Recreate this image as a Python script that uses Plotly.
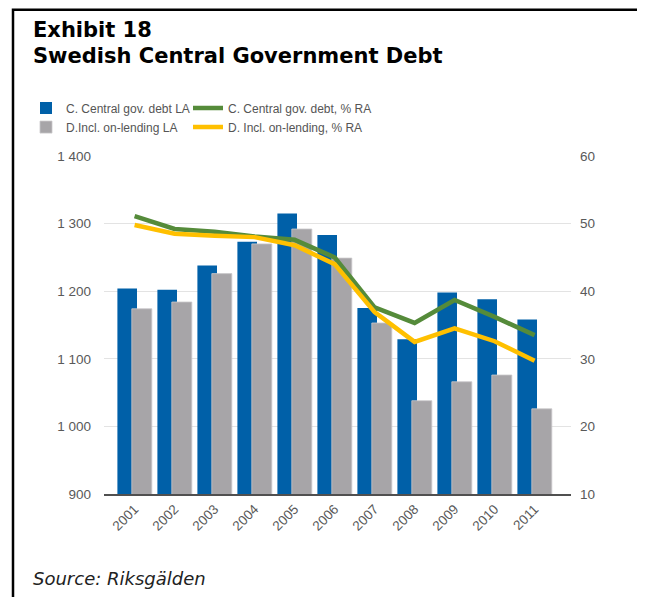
import numpy as np
import plotly.graph_objects as go

years = ["2001", "2002", "2003", "2004", "2005", "2006", "2007", "2008", "2009", "2010", "2011"]
debt_la = [1204, 1202, 1238, 1273, 1315, 1283, 1175, 1129, 1198, 1188, 1158]
onlend_la = [1174, 1184, 1226, 1270, 1292, 1249, 1153, 1038, 1066, 1076, 1026]
debt_pct = [51.1, 49.2, 48.8, 48.1, 47.6, 45.0, 37.6, 35.3, 38.7, 36.2, 33.5]
onlend_pct = [49.8, 48.5, 48.2, 48.0, 46.8, 44.0, 36.9, 32.5, 34.5, 32.6, 29.7]

x = np.arange(len(years))

BLUE = "#0060A8"
GREY = "#A7A5A8"
GREEN = "#558B3A"
YELLOW = "#FFC000"
TICK_FONT = dict(family="Liberation Sans, Arial", size=13.5, color="#595959")
LEG_FONT = dict(family="Liberation Sans, Arial", size=12, color="#555555")

# page has an 8px body margin; figure coordinates = screen - 8
OFF = 8
W, H = 645 - OFF, 597 - OFF
L = 104 - OFF
R = W - (571 - OFF)
T = 155.5 - OFF
B = H - (494 - OFF)
pw, ph = W - L - R, H - T - B

def px(xs):
    return (xs - OFF - L) / pw

def py(ys):
    return (H - B - (ys - OFF)) / ph

fig = go.Figure()
fig.add_trace(go.Bar(x=x, y=debt_la, name="C. Central gov. debt LA", marker=dict(color=BLUE, line=dict(width=0)),
                     offset=-0.43, width=0.49, yaxis="y", legend="legend"))
fig.add_trace(go.Bar(x=x, y=onlend_la, name="D.Incl. on-lending LA", marker=dict(color=GREY, line=dict(width=0.8, color="#C9C8CA")),
                     offset=-0.07, width=0.5, yaxis="y", legend="legend"))
fig.add_trace(go.Scatter(x=x, y=debt_pct, name="C. Central gov. debt, % RA", mode="lines",
                         line=dict(color=GREEN, width=4.5), yaxis="y2", legend="legend2"))
fig.add_trace(go.Scatter(x=x, y=onlend_pct, name="D. Incl. on-lending, % RA", mode="lines",
                         line=dict(color=YELLOW, width=4.5), yaxis="y2", legend="legend2"))

fig.update_layout(
    width=W, height=H,
    margin=dict(l=L, r=R, t=T, b=B, autoexpand=False),
    paper_bgcolor="white", plot_bgcolor="white",
    separators=", ",
    barmode="overlay",
    showlegend=True,
    legend=dict(orientation="v", x=px(26), y=py(93), xanchor="left", yanchor="top",
                itemwidth=30, traceorder="normal", font=LEG_FONT,
                bgcolor="rgba(0,0,0,0)", tracegroupgap=0),
    legend2=dict(orientation="v", x=px(188), y=py(93), xanchor="left", yanchor="top",
                 itemwidth=30, traceorder="normal", font=LEG_FONT,
                 bgcolor="rgba(0,0,0,0)", tracegroupgap=0),
    xaxis=dict(range=[-0.765, 10.91], tickvals=list(x), ticktext=years, tickangle=-45,
               tickfont=TICK_FONT, showgrid=False, zeroline=False,
               showline=True, linecolor="#505050", linewidth=2, ticks=""),
    yaxis=dict(range=[900, 1400], dtick=100, tickformat=",d", tickfont=TICK_FONT,
               showgrid=True, gridcolor="#E3E3E3", gridwidth=1, zeroline=False,
               ticks="", ticklabelstandoff=12),
    yaxis2=dict(range=[10, 60], dtick=10, overlaying="y", side="right", tickfont=TICK_FONT,
                showgrid=False, zeroline=False, ticks="", ticklabelstandoff=8),
    shapes=[
        dict(type="rect", xref="paper", yref="paper", x0=px(13), x1=px(641), y0=py(650), y1=py(9),
             line=dict(color="black", width=2.5), fillcolor="rgba(0,0,0,0)", layer="above"),
    ],
    annotations=[
        dict(text="<b>Exhibit 18</b>", xref="paper", yref="paper", x=px(31), y=py(43),
             xanchor="left", yanchor="bottom", showarrow=False,
             font=dict(family="DejaVu Sans", size=21, color="black")),
        dict(text="<b>Swedish Central Government Debt</b>", xref="paper", yref="paper", x=px(31), y=py(69),
             xanchor="left", yanchor="bottom", showarrow=False,
             font=dict(family="DejaVu Sans", size=21, color="black")),
        dict(text="<i>Source: Riksgälden</i>", xref="paper", yref="paper", x=px(31), y=py(591),
             xanchor="left", yanchor="bottom", showarrow=False,
             font=dict(family="DejaVu Sans", size=18, color="#222222")),
    ],
)

fig.write_html("out.html")
